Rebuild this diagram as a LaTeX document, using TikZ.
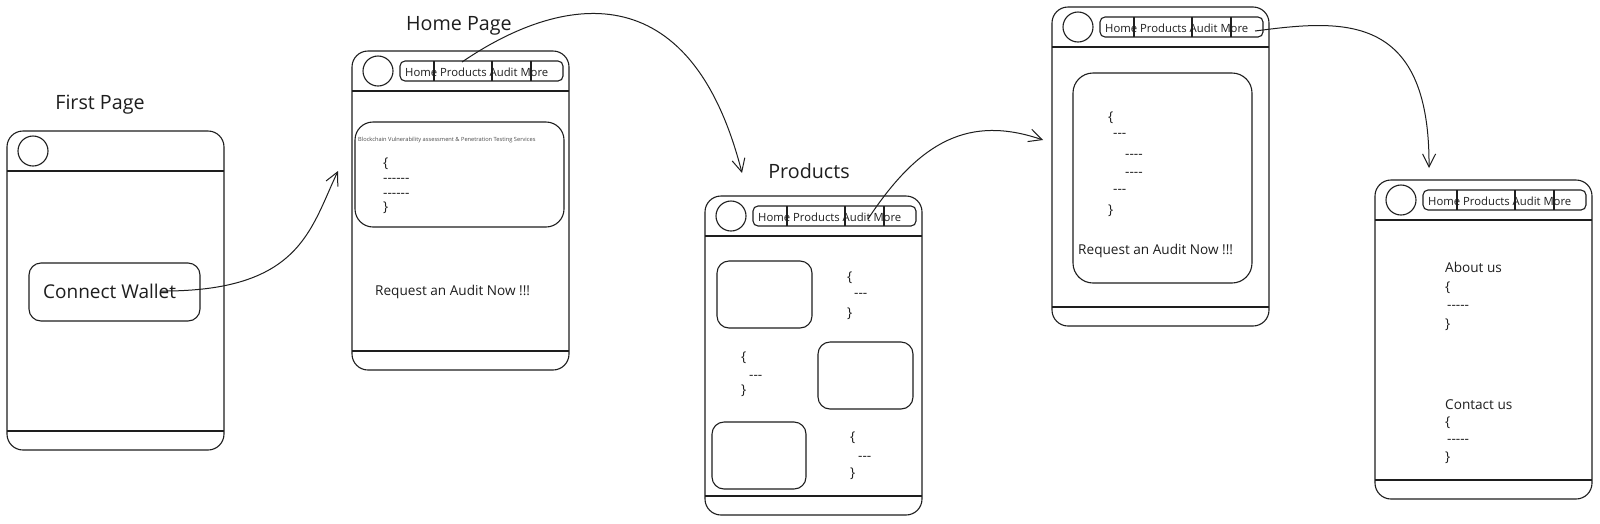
\documentclass[tikz,border=0pt]{standalone}
\usepackage{fontspec}
\setmainfont{Open Sans}
\usetikzlibrary{arrows.meta,calc}
\definecolor{ink}{HTML}{1E1E1E}
\newcommand\hh{-\kern0pt}
\tikzset{
 edge/.style={draw=ink, line width=1.1pt},
 phone/.style={edge, rounded corners=16pt, minimum width=217pt, minimum height=319pt, inner sep=0pt},
 circ/.style={edge, circle, minimum size=30pt, inner sep=0pt},
 navbar/.style={edge, rounded corners=5pt, minimum width=163pt, minimum height=20pt, inner sep=0pt},
 card/.style={edge, rounded corners=14pt, inner sep=0pt},
 navtext/.style={text=ink, font=\fontsize{11.3}{14}\selectfont, inner sep=0pt, anchor=base west},
 title/.style={text=ink, font=\fontsize{19.7}{24}\selectfont, inner sep=0pt, anchor=base},
 body/.style={text=ink, font=\fontsize{13.6}{15}\selectfont, inner sep=0pt, anchor=base west},
 tiny/.style={text=ink!80, font=\fontsize{5.7}{6}\selectfont, inner sep=0pt, anchor=base west},
 flow/.style={draw=ink, line width=1pt, -{Straight Barb[length=13pt,width=13pt,line width=1pt]}},
}
% #1 name, #2 left, #3 top
\newcommand\phoneframe[3]{%
 \begin{scope}[shift={(#2,#3)}]
  \node[phone] (#1) at (108.5,159.5) {};
  \draw[edge] (0,40) -- (217,40);
  \draw[edge] (0,300) -- (217,300);
  \node[circ] (#1-logo) at (26,20) {};
 \end{scope}}
\newcommand\navbar[3]{%
 \begin{scope}[shift={(#2,#3)}]
  \node[navbar] (#1-nav) at (129.5,20) {};
  \draw[edge] (82,10) -- (82,30);
  \draw[edge] (140,10) -- (140,30);
  \draw[edge] (179,10) -- (179,30);
  \node[navtext] (#1-navtext) at (53,25) {Home Products Audit More};
 \end{scope}}
% #1 name prefix, #2 list x/y/text
\newcommand\codeblock[2]{%
 \foreach \cx/\cy/\ct [count=\ci] in {#2} {\node[body] (#1-\ci) at (\cx,\cy) {\ct};}}
\begin{document}
\begin{tikzpicture}[x=1pt,y=-1pt]
\useasboundingbox (0,0) rectangle (1600,523);
\fill[white] (0,0) rectangle (1600,523);

% ---------- First page
\node[title] (t1) at (100,109) {First Page};
\phoneframe{p1}{7}{131}
\node[card, minimum width=171pt, minimum height=58pt, rounded corners=12pt] (cwbox) at (114.5,292) {};
\node[text=ink, font=\fontsize{19}{21}\selectfont, inner sep=0pt, anchor=base west] (cw) at (43,298) {Connect Wallet};
\coordinate (cw-out) at (160,291);
\coordinate (home-in) at (338,171);

% ---------- Home page
\node[title] (t2) at (459,30) {Home Page};
\phoneframe{p2}{352}{51}
\navbar{p2}{352}{51}
\node[card, minimum width=209pt, minimum height=105pt, rounded corners=18pt] (p2card) at (459.5,174.5) {};
\node[tiny] (p2tiny) at (358,141) {Blockchain Vulnerability assessment \& Penetration Testing Services};
\codeblock{p2code}{383/167/\{, 383/182/\hh\hh\hh\hh\hh\hh, 383/197/\hh\hh\hh\hh\hh\hh, 383/211/\}}
\node[body] (p2req) at (375,295) {Request an Audit Now !!!};
\coordinate (home-out) at (462,62);
\coordinate (prod-in) at (742,173);

% ---------- Products
\node[title] (t3) at (809,178) {Products};
\phoneframe{p3}{705}{196}
\navbar{p3}{705}{196}
\node[card, minimum width=95pt, minimum height=67pt, rounded corners=12pt] (p3b1) at (764.5,294.5) {};
\node[card, minimum width=95pt, minimum height=67pt, rounded corners=12pt] (p3b2) at (865.5,375.5) {};
\node[card, minimum width=94pt, minimum height=67pt, rounded corners=12pt] (p3b3) at (759,455.5) {};
\codeblock{p3a}{847/281/\{, 854/297/\hh\hh\hh, 847/317/\}}
\codeblock{p3b}{741/361/\{, 749/379/\hh\hh\hh, 741/394/\}}
\codeblock{p3c}{850/441/\{, 858/460/\hh\hh\hh, 850/477/\}}
\coordinate (prod-out) at (868,219);
\coordinate (audit-in) at (1043,140);

% ---------- Audit page
\phoneframe{p4}{1052}{7}
\navbar{p4}{1052}{7}
\node[card, minimum width=179pt, minimum height=210pt, rounded corners=20pt] (p4card) at (1162.5,178) {};
\codeblock{p4code}{1108/121/\{, 1113/137/\hh\hh\hh, 1125/158/\hh\hh\hh\hh, 1125/176/\hh\hh\hh\hh, 1113/193/\hh\hh\hh, 1108/214/\}}
\node[body] (p4req) at (1078,254) {Request an Audit Now !!!};
\coordinate (audit-out) at (1255,31);
\coordinate (more-in) at (1429,168);

% ---------- More page
\phoneframe{p5}{1375}{180}
\navbar{p5}{1375}{180}
\codeblock{p5a}{1445/272/About us, 1445/291/\{, 1447/309/\hh\hh\hh\hh\hh, 1445/328/\}}
\codeblock{p5b}{1445/409/Contact us, 1445/426/\{, 1447/443/\hh\hh\hh\hh\hh, 1445/461/\}}

% ---------- connectors
\draw[flow] (cw-out) .. controls (300,292) and (310,230) .. (home-in);
\draw[flow] (home-out) .. controls (560,-5) and (690,-30) .. (prod-in);
\draw[flow] (prod-out) .. controls (920,140) and (970,115) .. (audit-in);
\draw[flow] (audit-out) .. controls (1340,20) and (1430,10) .. (more-in);
\end{tikzpicture}
\end{document}
